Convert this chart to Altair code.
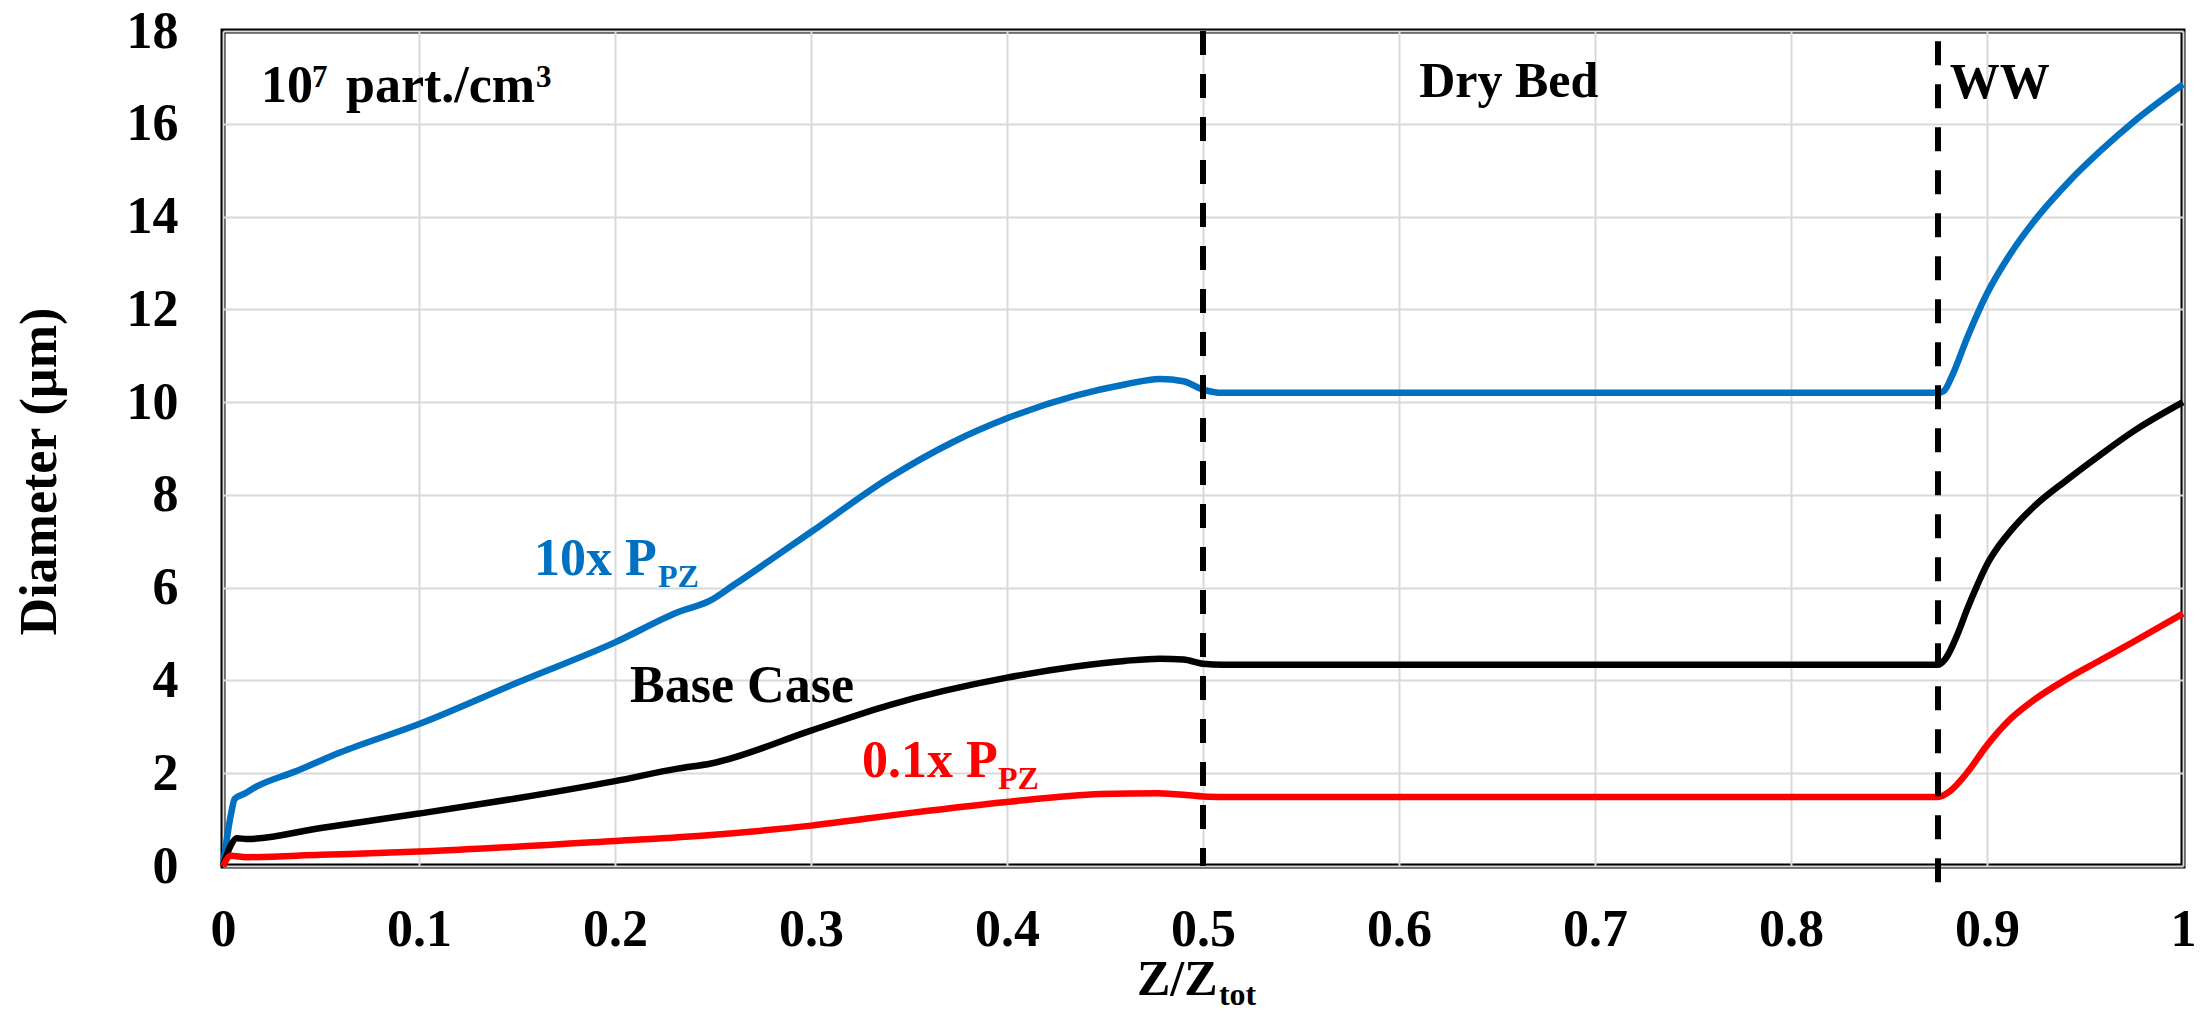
import altair as alt
import pandas as pd

# ---- data ----
z_10x = [0, 0.004, 0.006, 0.011, 0.017, 0.037, 0.06, 0.1, 0.15, 0.2, 0.232, 0.249, 0.26,
         0.3, 0.34, 0.372, 0.4, 0.435, 0.46, 0.478, 0.49, 0.5, 0.51, 0.875, 0.878, 0.882,
         0.89, 0.9, 0.912, 0.924, 0.941, 0.958, 0.975, 1.0]
d_10x = [0, 1.1, 1.45, 1.56, 1.71, 2.04, 2.45, 3.06, 3.95, 4.82, 5.47, 5.73, 6.04,
         7.2, 8.37, 9.13, 9.65, 10.14, 10.38, 10.5, 10.45, 10.27, 10.2, 10.2, 10.24, 10.55,
         11.4, 12.34, 13.2, 13.9, 14.72, 15.42, 16.05, 16.85]

z_base = [0, 0.004, 0.007, 0.012, 0.05, 0.1, 0.15, 0.2, 0.232, 0.249, 0.3, 0.34,
          0.4, 0.435, 0.46, 0.478, 0.49, 0.5, 0.51, 0.875, 0.879, 0.885, 0.89, 0.895, 0.9,
          0.906, 0.912, 0.924, 0.941, 0.958, 0.975, 1.0]
d_base = [0, 0.45, 0.6, 0.58, 0.82, 1.13, 1.46, 1.83, 2.1, 2.21, 2.92, 3.47,
          4.06, 4.3, 4.42, 4.47, 4.45, 4.36, 4.34, 4.34, 4.48, 5.0, 5.55, 6.05, 6.5,
          6.9, 7.22, 7.75, 8.33, 8.87, 9.38, 10.0]

z_01x = [0, 0.004, 0.012, 0.05, 0.1, 0.2, 0.249, 0.3, 0.35, 0.4, 0.448, 0.477, 0.5, 0.51,
         0.875, 0.881, 0.89, 0.9, 0.912, 0.924, 0.941, 0.958, 0.975, 1.0]
d_01x = [0, 0.22, 0.19, 0.24, 0.31, 0.54, 0.67, 0.87, 1.14, 1.38, 1.55, 1.57, 1.5, 1.49,
         1.49, 1.61, 2.02, 2.6, 3.17, 3.58, 4.04, 4.44, 4.84, 5.44]

series_names = ["10x P_PZ", "Base Case", "0.1x P_PZ"]
series_colors = ["#0070C0", "#000000", "#FF0000"]

x_ticks = [0, 0.1, 0.2, 0.3, 0.4, 0.5, 0.6, 0.7, 0.8, 0.9, 1]
y_ticks = [0, 2, 4, 6, 8, 10, 12, 14, 16, 18]

divider_z = [0.5, 0.875]
divider_top = [18, 17.78]
divider_bottom = [0, -0.62]

FONT = "Liberation Serif"

rows = []
for name, zs, ds in zip(series_names, [z_10x, z_base, z_01x], [d_10x, d_base, d_01x]):
    for i, (z, d) in enumerate(zip(zs, ds)):
        rows.append({"series": name, "z": z, "d": d, "order": i})
df = pd.DataFrame(rows)

xs = alt.Scale(domain=[0, 1], nice=False)
ys = alt.Scale(domain=[0, 18], nice=False)

x_axis = alt.Axis(values=x_ticks, format="~g", title=None, labelPadding=38,
                  labelAlign="center")
y_axis = alt.Axis(values=y_ticks, title="Diameter (µm)", labelPadding=45,
                  titleX=-168, titleY=440, titleAngle=270,
                  titleBaseline="alphabetic", titleAlign="center")

lines = alt.Chart(df).mark_line(strokeWidth=6.5, interpolate="monotone",
                                strokeJoin="round", clip=False).encode(
    x=alt.X("z:Q", scale=xs, axis=x_axis),
    y=alt.Y("d:Q", scale=ys, axis=y_axis),
    color=alt.Color("series:N", scale=alt.Scale(domain=series_names, range=series_colors),
                    legend=None),
    order="order:Q",
)

df_div = pd.DataFrame({"z": divider_z, "top": divider_top, "bottom": divider_bottom})
rules = alt.Chart(df_div).mark_rule(strokeDash=[24, 19], strokeWidth=6, color="black",
                                    clip=False).encode(
    x=alt.X("z:Q", scale=xs, axis=x_axis),
    y=alt.Y("top:Q", scale=ys, axis=y_axis),
    y2="bottom:Q",
)

# annotation pieces: text, x, y (data units), dx, dy, size, color, align
annotations = [
    ("10", 0.0194, 16.47, 0, 0, 52, "black", "left"),
    ("7", 0.0194, 16.47, 51, -15, 31, "black", "left"),
    ("part./cm", 0.0194, 16.47, 85, 0, 52, "black", "left"),
    ("3", 0.0194, 16.47, 275, -15, 31, "black", "left"),
    ("Dry Bed", 0.656, 16.57, 0, 0, 50, "black", "center"),
    ("WW", 0.881, 16.55, 0, 0, 50, "black", "left"),
    ("10x P", 0.1587, 6.27, 0, 0, 52, "#0070C0", "left"),
    ("PZ", 0.1587, 6.27, 124, 12, 32, "#0070C0", "left"),
    ("Base Case", 0.2077, 3.53, 0, 0, 52, "black", "left"),
    ("0.1x P", 0.326, 1.92, 0, 0, 52, "#FF0000", "left"),
    ("PZ", 0.326, 1.92, 136, 12, 32, "#FF0000", "left"),
    ("Z/Z", 0.4663, -2.78, 0, 0, 50, "black", "left"),
    ("tot", 0.4663, -2.78, 82, 10, 32, "black", "left"),
]

text_layers = []
for txt, ax, ay, dx, dy, size, col, align in annotations:
    tdf = pd.DataFrame({"tx": [ax], "ty": [ay], "label": [txt]})
    text_layers.append(
        alt.Chart(tdf).mark_text(font=FONT, fontWeight="bold", fontSize=size, color=col,
                                 align=align, baseline="alphabetic", dx=dx, dy=dy,
                                 clip=False).encode(
            x=alt.X("tx:Q", scale=xs, axis=x_axis),
            y=alt.Y("ty:Q", scale=ys, axis=y_axis),
            text="label:N",
        )
    )

chart = alt.layer(lines, rules, *text_layers).properties(
    width=1960,
    height=835,
    padding={"left": 223, "top": 31, "right": 25, "bottom": 146},
    autosize=alt.AutoSizeParams(type="none"),
    background="white",
).configure_view(
    stroke="black", strokeWidth=5
).configure_axis(
    grid=True, gridColor="#d9d9d9", gridWidth=2, domain=False, ticks=False,
    labelFont=FONT, labelFontSize=52, labelFontWeight="bold", labelColor="black",
    titleFont=FONT, titleFontSize=52, titleFontWeight="bold", titleColor="black",
)

chart.save("out.html", embed_options={"renderer": "svg", "actions": False})
